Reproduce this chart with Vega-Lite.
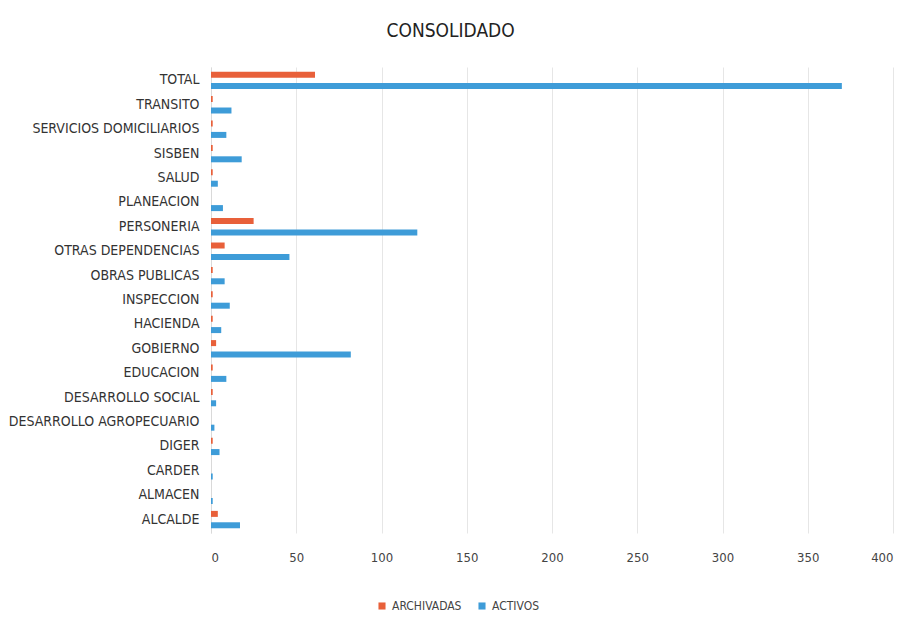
{
  "$schema": "https://vega.github.io/schema/vega-lite/v6.json",
  "autosize": {"type": "fit", "contains": "padding"},
  "width": 917,
  "height": 624,
  "padding": {"left": 8, "right": 24, "top": 22, "bottom": 60},
  "background": "#ffffff",
  "title": {"text": "CONSOLIDADO", "fontSize": 19, "font": "DejaVu Sans Condensed", "fontWeight": "normal", "color": "#222222", "anchor": "middle", "frame": "bounds", "offset": 26},
  "data": {"values": [
    {"dep": "TOTAL", "serie": "ARCHIVADAS", "valor": 61},
    {"dep": "TOTAL", "serie": "ACTIVOS", "valor": 370},
    {"dep": "TRANSITO", "serie": "ARCHIVADAS", "valor": 1},
    {"dep": "TRANSITO", "serie": "ACTIVOS", "valor": 12},
    {"dep": "SERVICIOS DOMICILIARIOS", "serie": "ARCHIVADAS", "valor": 1},
    {"dep": "SERVICIOS DOMICILIARIOS", "serie": "ACTIVOS", "valor": 9},
    {"dep": "SISBEN", "serie": "ARCHIVADAS", "valor": 1},
    {"dep": "SISBEN", "serie": "ACTIVOS", "valor": 18},
    {"dep": "SALUD", "serie": "ARCHIVADAS", "valor": 1},
    {"dep": "SALUD", "serie": "ACTIVOS", "valor": 4},
    {"dep": "PLANEACION", "serie": "ARCHIVADAS", "valor": 0},
    {"dep": "PLANEACION", "serie": "ACTIVOS", "valor": 7},
    {"dep": "PERSONERIA", "serie": "ARCHIVADAS", "valor": 25},
    {"dep": "PERSONERIA", "serie": "ACTIVOS", "valor": 121},
    {"dep": "OTRAS DEPENDENCIAS", "serie": "ARCHIVADAS", "valor": 8},
    {"dep": "OTRAS DEPENDENCIAS", "serie": "ACTIVOS", "valor": 46},
    {"dep": "OBRAS PUBLICAS", "serie": "ARCHIVADAS", "valor": 1},
    {"dep": "OBRAS PUBLICAS", "serie": "ACTIVOS", "valor": 8},
    {"dep": "INSPECCION", "serie": "ARCHIVADAS", "valor": 1},
    {"dep": "INSPECCION", "serie": "ACTIVOS", "valor": 11},
    {"dep": "HACIENDA", "serie": "ARCHIVADAS", "valor": 1},
    {"dep": "HACIENDA", "serie": "ACTIVOS", "valor": 6},
    {"dep": "GOBIERNO", "serie": "ARCHIVADAS", "valor": 3},
    {"dep": "GOBIERNO", "serie": "ACTIVOS", "valor": 82},
    {"dep": "EDUCACION", "serie": "ARCHIVADAS", "valor": 1},
    {"dep": "EDUCACION", "serie": "ACTIVOS", "valor": 9},
    {"dep": "DESARROLLO SOCIAL", "serie": "ARCHIVADAS", "valor": 1},
    {"dep": "DESARROLLO SOCIAL", "serie": "ACTIVOS", "valor": 3},
    {"dep": "DESARROLLO AGROPECUARIO", "serie": "ARCHIVADAS", "valor": 0},
    {"dep": "DESARROLLO AGROPECUARIO", "serie": "ACTIVOS", "valor": 2},
    {"dep": "DIGER", "serie": "ARCHIVADAS", "valor": 1},
    {"dep": "DIGER", "serie": "ACTIVOS", "valor": 5},
    {"dep": "CARDER", "serie": "ARCHIVADAS", "valor": 0},
    {"dep": "CARDER", "serie": "ACTIVOS", "valor": 1},
    {"dep": "ALMACEN", "serie": "ARCHIVADAS", "valor": 0},
    {"dep": "ALMACEN", "serie": "ACTIVOS", "valor": 1},
    {"dep": "ALCALDE", "serie": "ARCHIVADAS", "valor": 4},
    {"dep": "ALCALDE", "serie": "ACTIVOS", "valor": 17}
  ]},
  "mark": {"type": "bar", "size": 6},
  "encoding": {
    "y": {
      "field": "dep", "type": "nominal",
      "sort": ["TOTAL", "TRANSITO", "SERVICIOS DOMICILIARIOS", "SISBEN", "SALUD", "PLANEACION", "PERSONERIA", "OTRAS DEPENDENCIAS", "OBRAS PUBLICAS", "INSPECCION", "HACIENDA", "GOBIERNO", "EDUCACION", "DESARROLLO SOCIAL", "DESARROLLO AGROPECUARIO", "DIGER", "CARDER", "ALMACEN", "ALCALDE"],
      "scale": {"paddingInner": 0.3, "paddingOuter": 0.2},
      "axis": {"title": null, "ticks": false, "domain": true, "domainColor": "#d9d9d9", "labelFont": "DejaVu Sans Condensed", "labelFontSize": 14, "labelColor": "#333333", "labelPadding": 12, "labelLimit": 300}
    },
    "yOffset": {"field": "serie", "type": "nominal", "sort": ["ARCHIVADAS", "ACTIVOS"], "scale": {"paddingInner": 0.5}},
    "x": {
      "field": "valor", "type": "quantitative",
      "scale": {"domain": [0, 400]},
      "axis": {"title": null, "values": [0, 50, 100, 150, 200, 250, 300, 350, 400], "labelOverlap": false, "grid": true, "gridColor": "#e6e6e6", "domain": false, "ticks": false, "labelFont": "DejaVu Sans Condensed", "labelFontSize": 13, "labelColor": "#444444", "labelPadding": 18}
    },
    "color": {
      "field": "serie", "type": "nominal",
      "sort": ["ARCHIVADAS", "ACTIVOS"],
      "scale": {"domain": ["ARCHIVADAS", "ACTIVOS"], "range": ["#E8603A", "#3E9CD8"]},
      "legend": {"title": null, "orient": "none", "legendX": 165, "legendY": 533, "direction": "horizontal", "symbolType": "square", "symbolSize": 50, "labelFont": "DejaVu Sans Condensed", "labelFontSize": 12, "labelColor": "#444444", "columnPadding": 14}
    }
  },
  "config": {"view": {"stroke": null}}
}
